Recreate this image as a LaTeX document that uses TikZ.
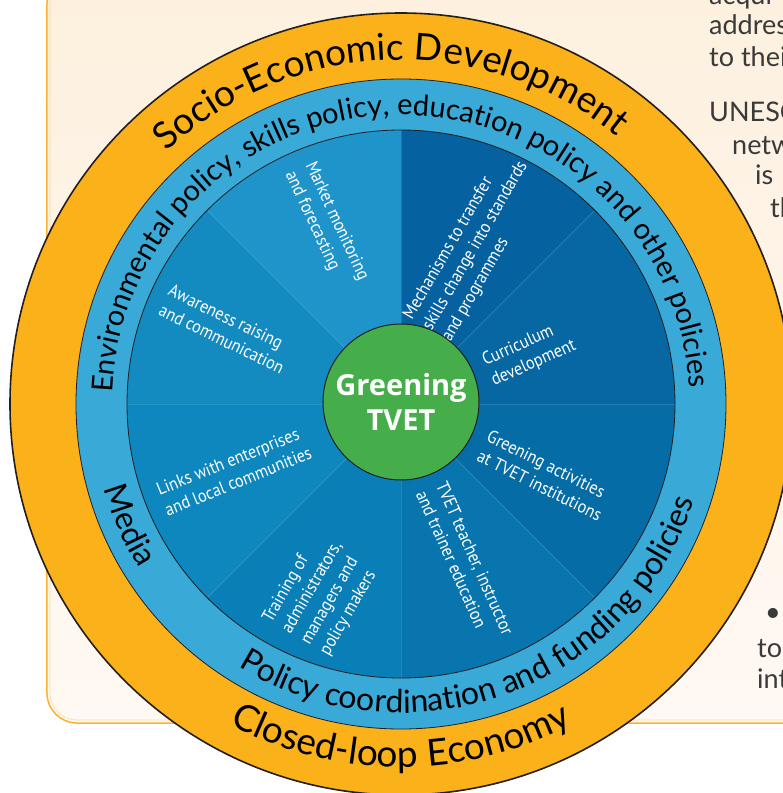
\documentclass[tikz,border=0pt]{standalone}
\usepackage{fontspec}
\usetikzlibrary{decorations.text}
\newfontfamily\ringfont{Lato}
\newfontfamily\bodyfont{Lato}
\newfontfamily\wedgefont[FakeStretch=0.9]{PT Sans}
\newfontfamily\hubfont{Open Sans}

\definecolor{naranja}{HTML}{FBB11A}
\definecolor{celeste}{HTML}{39A9D8}
\definecolor{verde}{HTML}{45AE4B}
\definecolor{borde}{HTML}{231F20}
\definecolor{crema}{HTML}{FDF0DE}
\definecolor{cremaclaro}{HTML}{FFF9F3}
\definecolor{marco}{HTML}{F9B233}
\definecolor{texto}{HTML}{3A3A3A}
\definecolor{azulA}{HTML}{0561A0}
\definecolor{azulB}{HTML}{0667A2}
\definecolor{azulC}{HTML}{066CA6}
\definecolor{azulD}{HTML}{0875AE}
\definecolor{azulE}{HTML}{0A7FB7}
\definecolor{azulF}{HTML}{0E86BE}
\definecolor{azulG}{HTML}{138BC1}
\definecolor{azulH}{HTML}{1F94CA}

\tikzset{
  wedgelabel/.style={text=white, align=left, inner sep=0pt,
    font=\wedgefont\fontsize{18}{22}\selectfont},
  bodytext/.style={text=texto, anchor=base west, inner sep=0pt,
    font=\bodyfont\fontsize{27}{30}\selectfont},
  ringline/.style={draw=borde, line width=0.8pt},
  seam/.style={draw=white, opacity=0.12, line width=0.8pt},
}

\begin{document}
\begin{tikzpicture}[x=1pt, y=1pt]
      \useasboundingbox (-401,-389) rectangle (382,404);
      \fill[white] (-401,-389) rectangle (382,404); % fondo
      \clip (-401,-389) rectangle (382,404);

      % recuadro de la pagina
      \shade[top color=crema, bottom color=cremaclaro, rounded corners=30pt] (-354,-319) rectangle (420,430);
      \draw[marco, line width=1.5pt, rounded corners=30pt] (-354,-319) rectangle (420,430);
      \draw[marco!45, line width=0.6pt, rounded corners=27pt] (-351,-316) rectangle (417,427);

      % texto de la pagina (cortado)
      \node[bodytext] (acq) at (308,399) {acqui};
      \node[bodytext] (addr) at (308,369) {addres};
      \node[bodytext] (thei) at (308,337) {to thei};
      \node[bodytext] (unesc) at (308,282) {UNESC};
      \node[bodytext] (netw) at (331,249) {netw};
      \node[bodytext] (is) at (354,219) {is};
      \node[bodytext] (th) at (369,186) {th};
      \node[bodytext, anchor=center] (bullet) at (372,-211) {•};
      \node[bodytext] (to) at (356,-253) {to};
      \node[bodytext] (int) at (356,-284) {int};

      % anillos
      \filldraw[fill=naranja, draw=borde, line width=1.6pt] (0,0) circle[radius=391pt]; % anillo naranja
      \filldraw[fill=celeste, ringline] (0,0) circle[radius=325pt]; % anillo celeste

      % sectores
      \fill[azulA] (0,0) -- (45:274pt) arc[start angle=45, end angle=90, radius=274pt] -- cycle;
      \fill[azulB] (0,0) -- (0:274pt) arc[start angle=0, end angle=45, radius=274pt] -- cycle;
      \fill[azulC] (0,0) -- (-45:274pt) arc[start angle=-45, end angle=0, radius=274pt] -- cycle;
      \fill[azulD] (0,0) -- (-90:274pt) arc[start angle=-90, end angle=-45, radius=274pt] -- cycle;
      \fill[azulE] (0,0) -- (-135:274pt) arc[start angle=-135, end angle=-90, radius=274pt] -- cycle;
      \fill[azulF] (0,0) -- (180:274pt) arc[start angle=180, end angle=225, radius=274pt] -- cycle;
      \fill[azulG] (0,0) -- (135:274pt) arc[start angle=135, end angle=180, radius=274pt] -- cycle;
      \fill[azulH] (0,0) -- (90:274pt) arc[start angle=90, end angle=135, radius=274pt] -- cycle;
      \draw[seam] (0:274pt) -- (180:274pt);
      \draw[seam] (45:274pt) -- (225:274pt);
      \draw[seam] (90:274pt) -- (270:274pt);
      \draw[seam] (135:274pt) -- (315:274pt);
      \draw[ringline] (0,0) circle[radius=274pt];

      % textos del anillo naranja
      \path[decorate, decoration={text along path, text align=center,
        text={|\ringfont\fontsize{37}{40}\selectfont\color{black}|Socio-Economic Development}}]
        (162:344pt) arc[start angle=162, end angle=22, radius=344pt];
      \path[decorate, decoration={text along path, text align=center,
        text={|\ringfont\fontsize{37}{40}\selectfont\color{black}|Closed-loop Economy}}]
        (225:363pt) arc[start angle=225, end angle=315, radius=363pt];

      % textos del anillo celeste
      \path[decorate, decoration={text along path, text align=center,
        text={|\ringfont\fontsize{29}{32}\selectfont\color{black}|Environmental policy, skills policy, education policy and other policies}}]
        (202:289pt) arc[start angle=202, end angle=-21, radius=289pt];
      \path[decorate, decoration={text along path, text align=center,
        text={|\ringfont\fontsize{32}{35}\selectfont\color{black}|Policy coordination and funding policies}}]
        (220:309pt) arc[start angle=220, end angle=360, radius=309pt];
      \path[decorate, decoration={text along path, text align=center,
        text={|\ringfont\fontsize{32}{35}\selectfont\color{black}|Media}}]
        (184:309pt) arc[start angle=184, end angle=224, radius=309pt];

      % etiquetas de los sectores
      \node[wedgelabel, rotate=60] (mech) at (74.5,157.8) {Mechanisms to transfer\\skills change into standards\\and programmes};
      \node[wedgelabel, rotate=24] (curr) at (128.3,50.7) {Curriculum\\development};
      \node[wedgelabel, rotate=-26.5] (green) at (143.6,-71.3) {Greening activities\\at TVET institutions};
      \node[wedgelabel, rotate=-66] (teach) at (64,-158.5) {TVET teacher, instructor\\and trainer education};
      \node[wedgelabel, rotate=60] (train) at (-79,-189) {Training of\\administrators,\\managers and\\policy makers};
      \node[wedgelabel, rotate=22] (links) at (-167,-67) {Links with enterprises\\and local communities};
      \node[wedgelabel, rotate=-26] (aware) at (-174.5,75) {Awareness raising\\and communication};
      \node[wedgelabel, rotate=-65] (market) at (-74.5,178) {Market monitoring\\and forecasting};

      % centro
      \node[circle, fill=verde, draw=borde, line width=1pt, minimum size=156pt, inner sep=0pt,
        align=center, text=white, font=\hubfont\bfseries\fontsize{29}{35}\selectfont] (hub) at (0,2) {Greening\\TVET};

\end{tikzpicture}
\end{document}
